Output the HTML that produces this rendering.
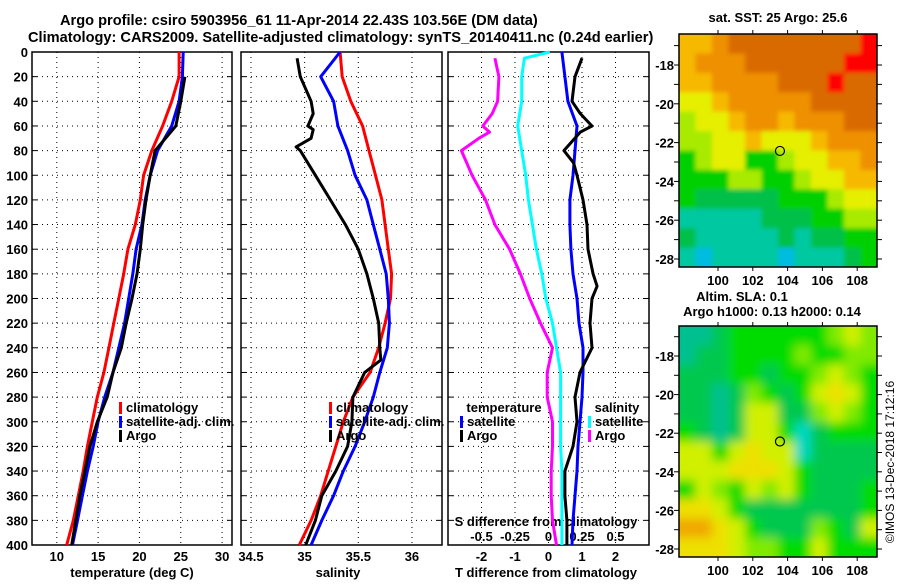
<!DOCTYPE html>
<html><head><meta charset="utf-8"><style>
body{margin:0;background:#fff}
svg text{font-family:"Liberation Sans",sans-serif;font-weight:bold;font-size:13px;fill:#000}
svg text.ttl{font-size:14.6px}
</style></head><body>
<svg id="chart" width="900" height="580" viewBox="0 0 900 580" xmlns="http://www.w3.org/2000/svg">
<defs>
<clipPath id="c1"><rect x="679" y="34" width="198" height="233"/></clipPath>
<clipPath id="c2"><rect x="679" y="326" width="198" height="231"/></clipPath>
<filter id="b1" x="-5%" y="-5%" width="110%" height="110%"><feGaussianBlur stdDeviation="2"/></filter>
<filter id="b2" x="-5%" y="-5%" width="110%" height="110%"><feGaussianBlur stdDeviation="5"/></filter>
</defs>
<text class="ttl" x="60" y="25">Argo profile: csiro 5903956_61 11-Apr-2014 22.43S 103.56E (DM data)</text>
<text class="ttl" x="28" y="42">Climatology: CARS2009. Satellite-adjusted climatology: synTS_20140411.nc (0.24d earlier)</text>
<g id="g"></g>
</svg>
<script>
const depths=[0,20,40,60,80,100,120,140,160,180,200,220,240,260,280,300,320,340,360,380,400];
const tempClim=[24.8,24.8,23.9,22.8,21.5,20.5,20.1,19.5,18.6,18.1,17.5,16.9,16.3,15.7,14.9,14.3,13.7,13.2,12.6,12.0,11.2];
const tempSat=[25.3,25.2,24.8,23.9,22.2,21.3,20.7,20.3,19.6,19.2,18.7,18.2,17.5,16.8,15.8,15.0,14.4,13.7,13.1,12.5,11.9];
const tempArgo=[25.9,25.5,25.0,24.4,21.9,21.3,20.8,20.4,20.1,19.7,19.1,18.4,17.8,16.8,16.1,14.9,14.0,13.4,12.8,12.3,11.8];
const salClim=[35.33,35.35,35.43,35.54,35.60,35.66,35.72,35.75,35.78,35.81,35.80,35.75,35.69,35.61,35.45,35.36,35.29,35.22,35.15,35.06,34.95];
const salSat=[35.33,35.15,35.27,35.31,35.40,35.47,35.58,35.64,35.70,35.76,35.78,35.79,35.77,35.70,35.64,35.56,35.47,35.36,35.27,35.16,35.06];
const salArgoDepth=[5,20,40,50,60,63,70,77,80,100,120,140,160,180,200,220,240,250,260,280,300,320,340,360,380,400];
const salArgo=[34.93,34.96,35.06,35.08,35.03,35.08,35.06,34.92,34.96,35.10,35.24,35.38,35.50,35.58,35.64,35.69,35.70,35.71,35.56,35.45,35.44,35.40,35.29,35.16,35.10,35.01];
const tdiffSat=[0.40,0.49,0.58,0.85,0.79,0.73,0.64,0.64,0.67,0.73,0.85,0.91,1.03,1.03,1.00,0.94,0.88,0.85,0.79,0.73,0.70];
const tdiffArgoDepth=[5,20,40,50,60,65,80,90,100,120,140,160,180,190,200,220,240,260,280,300,320,340,360,380,400];
const tdiffArgo=[1.0,0.79,0.70,0.95,1.30,0.95,0.46,0.75,0.85,1.03,1.15,1.18,1.33,1.45,1.30,1.24,1.30,0.94,0.79,0.85,0.73,0.49,0.49,0.55,0.55];
const sdiffSatDepth=[0,5,20,40,60,80,100,120,140,160,180,200,220,240,260,280,300,320,340,360,380,400];
const sdiffSat=[0.01,-0.18,-0.20,-0.20,-0.23,-0.20,-0.17,-0.15,-0.12,-0.09,-0.05,-0.02,0.03,0.06,0.09,0.09,0.09,0.09,0.10,0.10,0.10,0.10];
const sdiffArgoDepth=[5,20,40,50,60,65,70,80,100,120,140,160,180,200,220,240,260,280,300,320,340,360,380,400];
const sdiffArgo=[-0.40,-0.37,-0.38,-0.42,-0.49,-0.44,-0.52,-0.65,-0.57,-0.47,-0.40,-0.29,-0.21,-0.14,-0.06,0.03,-0.01,-0.01,0.03,0.03,0.02,0.02,0.03,0.06];
const depthTicks=[0,20,40,60,80,100,120,140,160,180,200,220,240,260,280,300,320,340,360,380,400];
const tempTicks=[10,15,20,25,30];
const salTicks=[34.5,35,35.5,36];
const tdTicks=[-2,-1,0,1,2];
const sdTicks=[-0.5,-0.25,0,0.25,0.5];
const sdTickLabels=["-0.5","-0.25","0","0.25","0.5"];
const latTicks=[-18,-20,-22,-24,-26,-28];
const lonTicks=[100,102,104,106,108];
const sstGrid=[
[3,3,2,1,1,1,1,1,1,1,1,0],[3,2,2,2,1,1,1,1,1,1,0,0],[3,3,2,2,2,2,1,1,1,0,1,1],
[4,4,3,2,2,2,2,2,1,1,1,1],[5,4,4,3,2,2,3,2,2,2,1,1],[5,5,4,4,3,4,4,4,3,2,2,2],
[6,5,4,4,6,6,5,4,4,3,3,2],[6,6,6,5,5,6,6,5,4,4,3,3],[6,7,7,7,7,7,6,6,6,5,4,4],
[8,8,8,8,8,7,7,7,6,6,5,5],[7,8,8,8,8,8,7,8,7,7,6,6],[8,9,8,8,8,8,9,8,8,8,7,6]];
const slaGrid=[
[0,0,1,2,2,2,2,2,2,3,4,3],[0,1,1,2,2,2,2,3,2,2,3,3],[1,1,1,2,2,1,2,2,3,4,3,2],
[1,1,0,1,3,2,1,2,4,5,4,2],[1,1,0,1,4,4,1,1,3,4,3,2],[2,1,0,1,4,4,2,7,1,2,2,2],
[4,4,2,4,5,4,4,7,1,1,1,1],[4,4,4,5,5,5,4,2,1,1,1,1],[2,4,3,2,4,3,4,2,1,1,1,2],
[5,5,4,2,1,1,1,1,1,1,1,2],[6,6,5,4,2,1,1,1,3,2,1,4],[5,5,5,4,3,3,2,2,4,2,2,2]];
const argoLon=103.56, argoLat=-22.43;

const NS="http://www.w3.org/2000/svg";
const G=document.getElementById('g');
function mk(t,a,p){const e=document.createElementNS(NS,t);for(const k in a)e.setAttribute(k,a[k]);(p||G).appendChild(e);return e;}
const Y0=52,Y1=545;
const yD=d=>Y0+d*(Y1-Y0)/400;
const panels=[{x0:32,x1:232,d0:7,d1:31.2},{x0:241,x1:442,d0:34.407,d1:36.28},{x0:448,x1:649,d0:-3,d1:3}];
const sx=(p,v)=>p.x0+(v-p.d0)*(p.x1-p.x0)/(p.d1-p.d0);
const sS=v=>sx(panels[2],v*4);

panels.forEach((p,i)=>{
  const fr=mk('rect',{x:p.x0,y:Y0,width:p.x1-p.x0,height:Y1-Y0,fill:'none',stroke:'#000','stroke-width':1.5});
  
  
  depthTicks.forEach(d=>{
    const y=yD(d);
    if(d>0&&d<400){const l=mk('line',{x1:p.x0,x2:p.x1,y1:y,y2:y,stroke:'#000','stroke-dasharray':'1 4'});
      
      }
    mk('line',{x1:p.x0,x2:p.x0+5,y1:y,y2:y,stroke:'#000'});
    mk('line',{x1:p.x1-5,x2:p.x1,y1:y,y2:y,stroke:'#000'});
    if(i==0){const t=mk('text',{x:28,y:y+5,'text-anchor':'end'});t.textContent=d;
      
      }
  });
});
function vgrid(p,vals,labels,ly){
  vals.forEach((v,k)=>{const x=sx(p,v);
    const l=mk('line',{x1:x,x2:x,y1:Y0,y2:Y1,stroke:'#000','stroke-dasharray':'1 4'});
    
    
    if(labels){const t=mk('text',{x:x,y:ly,'text-anchor':'middle'});t.textContent=labels[k];
      
      }
  });
}
vgrid(panels[0],tempTicks,tempTicks,561);
vgrid(panels[1],salTicks,salTicks,561);
vgrid(panels[2],tdTicks,tdTicks,561);
sdTicks.forEach((v,k)=>{const t=mk('text',{x:sS(v),y:541,'text-anchor':'middle'});t.textContent=sdTickLabels[k];
  
  });
function xl(x,y,s,n){const t=mk('text',{x:x,y:y,'text-anchor':'middle'});t.textContent=s;
  
  }
xl(132,577,'temperature (deg C)','temperature-axis-title');
xl(338,577,'salinity','salinity-axis-title');
xl(546,577,'T difference from climatology','t-diff-axis-title');
xl(546,526,'S difference from climatology','s-diff-axis-title');

function line(xs,ds,fn,col,name){
  const pts=xs.map((v,k)=>fn(v).toFixed(1)+','+yD(ds[k]).toFixed(1)).join(' ');
  const e=mk('polyline',{points:pts,fill:'none',stroke:col,'stroke-width':3,'stroke-linejoin':'round'});
  
  
}
const p0=panels[0],p1=panels[1],p2=panels[2];
line(tempClim,depths,v=>sx(p0,v),'#ff0000','temp-climatology-line');
line(tempSat,depths,v=>sx(p0,v),'#0000ff','temp-satellite-line');
line(tempArgo.slice(1),depths.slice(1),v=>sx(p0,v),'#000','temp-argo-line');
line(salClim,depths,v=>sx(p1,v),'#ff0000','sal-climatology-line');
line(salSat,depths,v=>sx(p1,v),'#0000ff','sal-satellite-line');
line(salArgo,salArgoDepth,v=>sx(p1,v),'#000','sal-argo-line');
line(sdiffArgo,sdiffArgoDepth,sS,'#ff00ff','s-diff-argo-line');
line(sdiffSat,sdiffSatDepth,sS,'#00ffff','s-diff-satellite-line');
line(tdiffSat,depths,v=>sx(p2,v),'#0000ff','t-diff-satellite-line');
line(tdiffArgo,tdiffArgoDepth,v=>sx(p2,v),'#000','t-diff-argo-line');

function leg(x,y,col,s,n){
  mk('rect',{x:x,y:y-10,width:3,height:12,fill:col});
  const t=mk('text',{x:x+7,y:y});t.textContent=s;
  
  
}
leg(119,412,'#ff0000','climatology','legend-temp-climatology');
leg(119,426,'#0000ff','satellite-adj. clim.','legend-temp-satellite');
leg(119,440,'#000','Argo','legend-temp-argo');
leg(329,412,'#ff0000','climatology','legend-sal-climatology');
leg(329,426,'#0000ff','satellite-adj. clim.','legend-sal-satellite');
leg(329,440,'#000','Argo','legend-sal-argo');
xl(504,412,'temperature','legend-temperature-header');
leg(460,426,'#0000ff','satellite','legend-tdiff-satellite');
leg(460,440,'#000','Argo','legend-tdiff-argo');
xl(617,412,'salinity','legend-salinity-header');
leg(588,426,'#00ffff','satellite','legend-sdiff-satellite');
leg(588,440,'#ff00ff','Argo','legend-sdiff-argo');

const sstPal=['#ff0000','#d96a00','#ee9000','#f7b800','#e6ef00','#a8ea00','#00d000','#00c048','#00c8a0','#00bce0'];
const slaPal=['#00c090','#00c850','#00dc00','#80ea00','#d0f000','#eee000','#f0a800','#00d8c0'];
function map(top,bot,grid,pal,name,lat18y,clip,blur){
  const X0=679,X1=877;
  const lonX=l=>718+(l-100)*17.4;
  const latY=l=>lat18y+(-18-l)*((bot-top)>232?19.4:19.3);
  const outer=mk('g',{'clip-path':'url(#'+clip+')'});
  const g=mk('g',{filter:'url(#'+blur+')'},outer);
  
  
  const rows=grid.length,cols=grid[0].length,cw=(X1-X0)/cols,ch=(bot-top)/rows;
  grid.forEach((r,i)=>r.forEach((c,j)=>{
    const x=X0+j*cw-(j==0?12:0),y=top+i*ch-(i==0?12:0);
    const w=cw+0.6+(j==0?12:0)+(j==cols-1?12:0),h=ch+0.6+(i==0?12:0)+(i==rows-1?12:0);
    const e=mk('rect',{x:x,y:y,width:w,height:h,fill:pal[c]},g);
    
    
  }));
  mk('rect',{x:X0,y:top,width:X1-X0,height:bot-top,fill:'none',stroke:'#000','stroke-width':1.5});
  for(let l=-17;l>=-28;l--){const y=latY(l);if(y<top||y>bot)continue;
    mk('line',{x1:X0-5,x2:X0,y1:y,y2:y,stroke:'#000'});mk('line',{x1:X1,x2:X1+5,y1:y,y2:y,stroke:'#000'});}
  latTicks.forEach(l=>{const t=mk('text',{x:674,y:latY(l)+5,'text-anchor':'end'});t.textContent=l;
    
    });
  lonTicks.forEach(l=>{const x=lonX(l);mk('line',{x1:x,x2:x,y1:top,y2:top-4,stroke:'#000'});mk('line',{x1:x,x2:x,y1:bot,y2:bot+4,stroke:'#000'});
    const t=mk('text',{x:x,y:bot+18,'text-anchor':'middle'});t.textContent=l;
    
    });
  const c=mk('circle',{cx:lonX(argoLon),cy:latY(argoLat),r:4.5,fill:'none',stroke:'#000','stroke-width':1.2});
  
  
}
map(34,267,sstGrid,sstPal,'sst-map',65,'c1','b1');
map(326,557,slaGrid,slaPal,'sla-map',356,'c2','b2');
xl(778,22,'sat. SST: 25 Argo: 25.6','sst-map-title');
xl(742,301,'Altim. SLA: 0.1','sla-title');
xl(772,316,'Argo h1000: 0.13 h2000: 0.14','argo-height-title');
const cr=mk('text',{x:0,y:0,transform:'translate(894,462) rotate(-90)','style':'font-weight:normal;font-size:12px','text-anchor':'middle'});
cr.textContent='©IMOS 13-Dec-2018 17:12:16';


</script>
</body></html>
